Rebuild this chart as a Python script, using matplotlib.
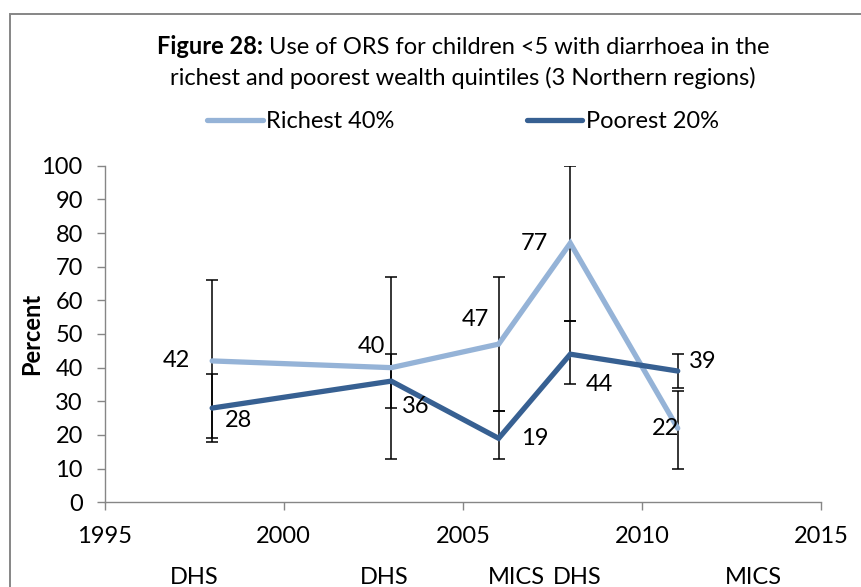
import numpy as np
import matplotlib
matplotlib.use("Agg")
import matplotlib.pyplot as plt
from matplotlib.patches import Rectangle
from matplotlib.transforms import blended_transform_factory

plt.rcParams['font.family'] = ['Lato', 'DejaVu Sans']

# Survey years and ORS use (%) by wealth group
years = [1998, 2003, 2006, 2008, 2011]
surveys = ["DHS", "DHS", "MICS", "DHS", "MICS"]
richest = [42, 40, 47, 77, 22]
richest_lo = [18, 13, 27, 54, 10]
richest_hi = [66, 67, 67, 100, 33]
poorest = [28, 36, 19, 44, 39]
poorest_lo = [19, 28, 13, 35, 34]
poorest_hi = [38, 44, 27, 54, 44]

x_ticks = [1995, 2000, 2005, 2010, 2015]
y_ticks = list(range(0, 101, 10))

# label offsets in pixels (dx, dy)
richest_off = [(-36, 0), (-20, 21), (-23, 25), (-36, 0), (-12, 0)]
poorest_off = [(26, -12), (25, -25), (36, 0), (29, -30), (25, 10)]

c_rich = "#95B3D7"
c_poor = "#376092"
c_axis = "#868686"
fs = 17

fig = plt.figure(figsize=(8.61, 5.87), dpi=100)
W, H = 861, 587
ax = fig.add_axes([104.7 / W, 1 - 502.3 / H, (821 - 104.7) / W, (502.3 - 165.7) / H])

# outer chart frame
fig.patches.append(Rectangle((10 / W, -0.1), 1.2, 1 - 14 / H + 0.1, transform=fig.transFigure,
                             fill=False, edgecolor=c_axis, lw=1.4))

ax.errorbar(years, richest,
            yerr=[np.array(richest) - np.array(richest_lo), np.array(richest_hi) - np.array(richest)],
            fmt='none', ecolor='black', elinewidth=1.1, capsize=4.3, capthick=1.1, zorder=2)
ax.errorbar(years, poorest,
            yerr=[np.array(poorest) - np.array(poorest_lo), np.array(poorest_hi) - np.array(poorest)],
            fmt='none', ecolor='black', elinewidth=1.1, capsize=4.3, capthick=1.1, zorder=2)
l1, = ax.plot(years, richest, color=c_rich, lw=3.8, solid_capstyle='round', solid_joinstyle='miter', zorder=3, label="Richest 40%")
l2, = ax.plot(years, poorest, color=c_poor, lw=3.8, solid_capstyle='round', solid_joinstyle='miter', zorder=3, label="Poorest 20%")

for xv, yv, (dx, dy) in zip(years, richest, richest_off):
    ax.annotate(f"{yv}", (xv, yv), xytext=(dx, dy), textcoords='offset pixels',
                ha='center', va='center', fontsize=fs, color='black', zorder=4)
for xv, yv, (dx, dy) in zip(years, poorest, poorest_off):
    ax.annotate(f"{yv}", (xv, yv), xytext=(dx, dy), textcoords='offset pixels',
                ha='center', va='center', fontsize=fs, color='black', zorder=4)

ax.set_xlim(1995, 2015)
ax.set_ylim(0, 100)
ax.set_xticks(x_ticks)
ax.set_yticks(y_ticks)
ax.tick_params(axis='both', direction='out', length=5.8, width=1, color=c_axis, labelsize=fs, labelcolor='black')
ax.tick_params(axis='y', pad=10)
ax.tick_params(axis='x', pad=11)
for s in ['top', 'right']:
    ax.spines[s].set_visible(False)
for s in ['left', 'bottom']:
    ax.spines[s].set_color(c_axis)
    ax.spines[s].set_linewidth(1)

# survey source row beneath the year axis
tr = blended_transform_factory(ax.transData, ax.transAxes)
survey_x = [1997.5, 2002.8, 2006.5, 2008.2, 2013.1]
for xv, s in zip(survey_x, surveys):
    ax.text(xv, -0.222, s, transform=tr, ha='center', va='center', fontsize=fs)

fig.text(32 / W, 1 - 334 / H, "Percent", rotation=90, ha='center', va='center',
         fontsize=fs, fontweight='bold')

# title with bold lead-in
renderer = fig.canvas.get_renderer()
bold_part = "Figure 28:"
rest_part = " Use of ORS for children <5 with diarrhoea in the"
tb = fig.text(0, 0, bold_part, fontsize=fs, fontweight='bold')
tr_ = fig.text(0, 0, rest_part, fontsize=fs)
wb = tb.get_window_extent(renderer).width
wr = tr_.get_window_extent(renderer).width
cx = 463
x0 = cx - (wb + wr) / 2
y1 = 1 - 47 / H
tb.set_position((x0 / W, y1)); tb.set_va('center')
tr_.set_position(((x0 + wb) / W, y1)); tr_.set_va('center')
fig.text(cx / W, 1 - 78 / H, "richest and poorest wealth quintiles (3 Northern regions)",
         ha='center', va='center', fontsize=fs)

fig.legend(handles=[l1, l2], loc='center', bbox_to_anchor=(463 / W, 1 - 122 / H), ncol=2,
           frameon=False, fontsize=fs, handlelength=2.35, handletextpad=0.15, columnspacing=5.6)

fig.savefig("out.png", dpi=100)
